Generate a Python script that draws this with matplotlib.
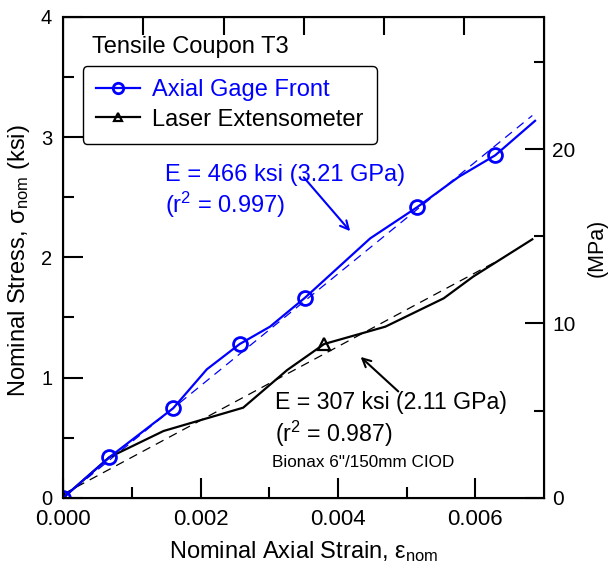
import matplotlib

matplotlib.use("Agg")
import matplotlib.pyplot as plt

plt.rcParams["font.family"] = ["Liberation Sans", "DejaVu Sans"]
plt.rcParams["mathtext.fontset"] = "custom"
plt.rcParams["mathtext.rm"] = "Liberation Sans"
plt.rcParams["mathtext.it"] = "Liberation Sans:italic"

KSI_TO_MPA = 6.894757

# Axial gage front: nominal strain vs nominal stress (ksi)
gage_strain = [0.0, 0.00067, 0.00160, 0.00209, 0.00257, 0.00301, 0.00352,
               0.00447, 0.00515, 0.00576, 0.00629, 0.00687]
gage_stress = [0.0, 0.336, 0.744, 1.068, 1.279, 1.423, 1.664,
               2.158, 2.416, 2.670, 2.849, 3.136]
gage_markers = [0, 1, 2, 4, 6, 8, 10]

# Laser extensometer
laser_strain = [0.0, 0.00067, 0.00146, 0.00262, 0.00326, 0.00380,
                0.00469, 0.00554, 0.00597, 0.00683]
laser_stress = [0.0, 0.336, 0.555, 0.749, 1.062, 1.279,
                1.423, 1.659, 1.840, 2.150]
laser_markers = [0, 5]

# linear fits
gage_fit_strain = [0.0, 0.00683]
gage_fit_stress = [0.0, 3.18]
laser_fit_strain = [0.0, 0.00637]
laser_fit_stress = [0.03, 1.985]

x_ticks = [0.0, 0.002, 0.004, 0.006]
x_ticklabels = ["0.000", "0.002", "0.004", "0.006"]
y_ticks = [0, 1, 2, 3, 4]
mpa_ticks = [0, 10, 20]

fig = plt.figure(figsize=(6.08, 5.66), dpi=100)
ax = fig.add_axes([0.1041, 0.1207, 0.7906, 0.8493])

ax.plot(gage_fit_strain, gage_fit_stress, color="blue", lw=0.9, ls=(0, (7, 5)))
ax.plot(laser_fit_strain, laser_fit_stress, color="black", lw=0.9, ls=(0, (7, 5)))
laser_line, = ax.plot(laser_strain, laser_stress, color="black", lw=1.6, marker="^",
                      markevery=laser_markers, ms=8, mfc="none", mec="black", mew=1.6,
                      label="Laser Extensometer")
gage_line, = ax.plot(gage_strain, gage_stress, color="blue", lw=1.6, marker="o",
                     markevery=gage_markers, ms=10, mfc="none", mec="blue", mew=2,
                     label="Axial Gage Front")

ax.set_xlim(0, 0.007)
ax.set_ylim(0, 4)
ax.set_xticks(x_ticks)
ax.set_xticklabels(x_ticklabels)
ax.set_xticks([0.001, 0.003, 0.005], minor=True)
ax.set_yticks(y_ticks)
ax.set_yticks([0.5, 1.5, 2.5, 3.5], minor=True)
ax.tick_params(which="both", direction="in", width=1.5, top=False, right=False)
ax.tick_params(which="major", length=14.5)
ax.tick_params(which="minor", length=8)
ax.tick_params(axis="x", labelsize=16, pad=8)
ax.tick_params(axis="y", labelsize=14.5, pad=8)
for s in ax.spines.values():
    s.set_linewidth(1.5)

ax.set_xlabel(r"Nominal Axial Strain, $\mathrm{ε_{nom}}$", fontsize=17, labelpad=7)
ax.set_ylabel(r"Nominal Stress, $\mathrm{σ_{nom}}$ (ksi)", fontsize=17)
ax.yaxis.set_label_coords(-0.066, 0.493)

# right axis in MPa
ax2 = ax.twinx()
ax2.set_ylim(0, 4 * KSI_TO_MPA)
ax2.set_yticks(mpa_ticks)
ax2.set_yticks([5, 15, 25], minor=True)
ax2.tick_params(which="both", direction="in", width=1.5, labelsize=15, pad=6)
ax2.tick_params(which="major", length=14)
ax2.tick_params(which="minor", length=7)
ax2.set_ylabel("(MPa)", fontsize=15.5)
ax2.yaxis.set_label_coords(1.088, 0.52)

# unlabelled top axis
ax3 = ax.twiny()
ax3.set_xlim(0, 6)
ax3.set_xticks([1, 2, 3, 4, 5])
ax3.tick_params(direction="in", width=1.5, length=13, labeltop=False)

leg = ax.legend(handles=[gage_line, laser_line], loc="upper left",
                bbox_to_anchor=(0.040, 0.897), borderaxespad=0,
                fontsize=17, handlelength=1.9, markerscale=0.75, fancybox=True,
                edgecolor="black", framealpha=1, labelspacing=0.3, borderpad=0.55,
                handletextpad=0.5, labelcolor="linecolor")
leg.get_frame().set_linewidth(1.0)
leg.set_zorder(5)

ax.text(0.000418, 3.70, "Tensile Coupon T3", fontsize=17, va="baseline")
ax.text(0.001482, 2.637, "E = 466 ksi (3.21 GPa)", fontsize=17, color="blue", va="baseline")
ax.text(0.001482, 2.366, r"(r$^2$ = 0.997)", fontsize=17, color="blue", va="baseline")
ax.text(0.003086, 0.735, "E = 307 ksi (2.11 GPa)", fontsize=16.7, va="baseline")
ax.text(0.003086, 0.466, r"(r$^2$ = 0.987)", fontsize=16.7, va="baseline")
ax.text(0.003042, 0.255, "Bionax 6\"/150mm CIOD", fontsize=12.3, va="baseline")

ax.annotate("", xy=(0.004204, 2.200), xytext=(0.003476, 2.683),
            arrowprops=dict(arrowstyle="->,head_length=0.6,head_width=0.3",
                            color="blue", lw=1.5))
ax.annotate("", xy=(0.00430, 1.187), xytext=(0.004908, 0.8686),
            arrowprops=dict(arrowstyle="->,head_length=0.6,head_width=0.3",
                            color="black", lw=1.5))

fig.savefig("out.png", dpi=100)
plt.close(fig)
